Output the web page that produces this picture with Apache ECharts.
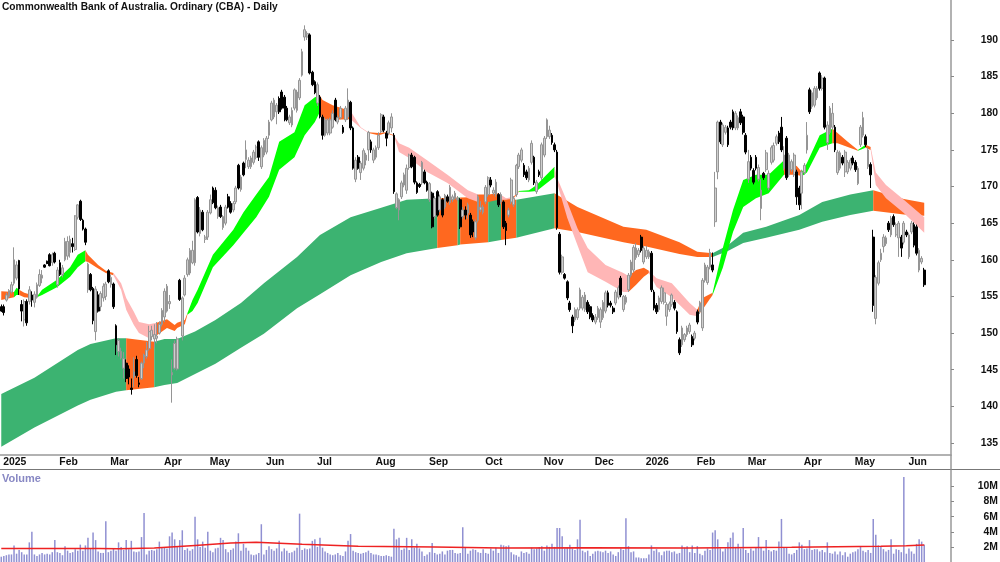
<!DOCTYPE html>
<html lang="en">
<head>
    <meta charset="UTF-8">
    <title>CBA - Daily</title>
    <style>
        html, body { margin: 0; padding: 0; background: #fff; }
    </style>
</head>
<body>
<div id="main" style="width: 1000px;height:562px;"></div>
<script src="https://cdn.jsdelivr.net/npm/echarts@6/dist/echarts.min.js"></script>
<script type="text/javascript">
    var titleText = "Commonwealth Bank of Australia. Ordinary (CBA) - Daily";

    // month labels, position given as bar number
    var tickBars = [0,22,42,63,81,103,123,146,167,189,212,232,252,272,292,314,334,355];
    var tickNames = ["2025","Feb","Mar","Apr","May","Jun","Jul","Aug","Sep","Oct","Nov","Dec","2026","Feb","Mar","Apr","May","Jun"];
    var priceTicks = [135,140,145,150,155,160,165,170,175,180,185,190];
    var volumeTicks = [2,4,6,8,10];

    // one row per day: open, close, low, high
    var ohlc = [
        [153.6,153.0,152.9,153.9],[153.6,152.8,152.4,153.9],[154.5,155.2,154.3,155.5],[155.0,155.8,154.8,156.0],[155.6,156.6,155.4,157.0],
        [156.8,160.0,156.5,161.7],[157.5,159.3,157.2,159.8],[159.9,156.0,155.2,160.0],[153.9,153.0,151.6,154.5],[151.8,154.3,150.9,154.6],
        [154.3,151.4,151.0,154.6],[154.3,155.9,153.9,156.4],[155.2,154.5,153.6,155.7],[154.2,155.3,153.5,155.7],[154.9,156.6,154.7,156.9],
        [156.5,158.0,156.3,158.7],[157.5,157.9,156.8,158.6],[159.3,159.0,158.9,159.4],[159.8,159.5,159.4,159.9],[160.7,159.2,159.1,160.9],
        [159.6,160.7,159.2,161.0],[160.9,159.7,159.5,161.1],[156.6,158.6,156.2,159.0],[159.6,158.0,157.8,160.0],[158.0,158.9,157.6,159.3],
        [160.0,162.5,159.8,163.0],[160.5,162.5,160.0,163.2],[161.0,162.8,160.3,163.3],[162.2,161.8,161.0,163.0],[161.4,166.0,161.2,166.1],
        [165.8,167.5,165.5,167.6],[168.0,165.5,165.3,168.2],[165.4,164.2,164.0,165.6],[164.2,162.4,162.0,164.4],[155.9,159.4,155.5,159.6],
        [158.0,155.9,155.7,158.2],[156.1,151.7,151.2,156.3],[150.2,156.0,149.0,156.4],[155.2,153.0,152.8,155.7],[153.6,155.4,153.0,155.7],
        [154.8,156.4,154.3,156.8],[155.0,156.7,154.5,157.0],[158.5,157.0,156.8,158.7],[156.6,157.6,156.2,158.0],[156.7,153.6,153.3,156.9],
        [151.0,148.4,147.0,151.2],[147.5,149.0,146.8,149.3],[146.6,147.5,146.4,148.0],[145.2,146.5,143.8,147.4],[145.9,143.8,143.3,146.4],
        [145.1,144.0,143.0,145.6],[142.5,142.3,141.6,143.8],[144.0,144.7,142.6,146.7],[146.4,144.2,143.9,146.9],[143.2,143.0,142.6,144.0],
        [143.8,145.9,143.6,146.1],[145.9,147.0,145.2,147.2],[146.8,147.7,146.5,148.8],[147.9,150.2,147.6,151.0],[149.5,150.4,149.0,151.0],
        [149.2,149.8,148.0,151.2],[149.3,149.6,148.6,151.5],[150.0,151.2,149.8,151.6],[151.2,153.1,150.9,153.4],[152.2,155.7,151.5,156.1],
        [153.0,156.4,152.8,156.7],[154.0,154.3,153.3,155.2],[144.3,144.6,140.5,146.4],[145.2,148.6,145.0,149.0],[145.1,149.2,144.9,149.5],
        [157.2,154.6,154.4,157.4],[149.6,154.8,149.0,155.0],[155.2,157.5,155.0,157.9],[158.0,160.0,157.7,160.3],[158.2,161.3,157.9,161.6],
        [159.6,161.3,159.4,162.6],[159.6,168.2,159.2,168.4],[168.5,163.8,163.6,168.7],[163.6,166.8,163.2,167.2],[166.5,164.1,163.9,166.8],
        [162.8,163.1,162.3,163.4],[163.1,166.5,162.7,166.8],[166.4,168.2,166.2,168.9],[169.8,167.8,167.6,170.0],[169.5,167.1,166.9,169.9],
        [165.9,167.1,165.6,167.4],[167.2,165.9,165.7,167.5],[164.4,165.9,164.1,166.1],[165.0,167.2,164.7,167.5],[168.6,167.2,167.0,169.0],
        [167.7,166.5,166.3,168.0],[166.8,167.7,166.5,168.0],[167.9,169.8,167.6,170.1],[172.9,169.8,169.6,173.1],[169.6,171.3,169.3,171.6],
        [173.2,171.6,171.4,173.4],[173.7,175.0,172.5,176.3],[172.7,173.6,172.4,174.0],[172.7,173.9,172.4,174.2],[173.3,174.7,173.0,175.0],
        [174.0,175.4,173.7,175.7],[176.1,174.0,173.5,176.3],[172.7,175.3,172.4,175.6],[174.3,176.3,174.0,176.6],[174.7,176.6,174.4,176.9],
        [177.0,178.8,176.5,179.1],[179.1,181.4,178.9,181.7],[179.5,181.8,179.2,182.1],[180.2,181.1,178.5,181.4],[182.0,180.2,179.9,182.3],
        [182.9,180.7,180.5,183.2],[182.2,180.7,178.9,182.5],[180.7,179.1,178.9,181.0],[178.7,179.5,178.4,179.8],[178.4,180.4,178.1,180.8],
        [180.7,183.2,180.4,183.4],[180.4,182.9,180.1,183.2],[182.1,184.5,181.8,184.8],[185.2,188.4,185.0,188.8],[190.4,191.4,189.9,192.0],
        [190.4,190.9,190.0,191.2],[190.7,185.5,185.3,190.9],[185.6,183.9,183.7,185.8],[184.3,182.8,182.6,184.5],[181.4,183.9,181.0,184.2],
        [182.2,179.5,179.3,182.5],[179.5,177.0,176.4,179.8],[177.0,179.1,176.8,179.4],[177.3,179.1,177.0,179.3],[177.3,179.1,177.0,179.4],
        [178.1,180.0,177.9,180.4],[181.8,179.1,178.9,182.1],[178.8,179.4,178.5,179.7],[179.4,180.7,179.2,181.0],[178.1,177.4,177.2,178.4],
        [179.1,180.7,178.8,181.0],[179.5,181.8,179.1,183.4],[181.5,178.0,177.7,181.7],[178.0,172.5,172.3,178.2],[171.0,173.6,170.6,174.0],
        [174.0,172.5,172.3,174.3],[171.9,173.2,170.9,173.5],[172.5,174.9,172.2,175.2],[173.6,174.3,172.9,174.6],[175.0,177.4,173.5,177.6],
        [176.1,175.0,174.6,176.4],[173.6,175.0,173.2,175.3],[174.0,175.3,173.7,175.6],[175.3,177.0,175.0,177.4],[177.5,179.8,177.3,180.0],
        [179.5,177.7,177.4,179.8],[177.3,176.6,175.5,177.6],[177.3,178.7,177.0,179.0],[178.0,179.5,177.4,180.0],[177.0,169.3,169.0,177.3],
        [167.1,169.0,166.9,169.2],[166.8,168.2,165.4,168.4],[168.6,170.5,168.3,170.8],[170.2,171.6,169.9,171.9],[169.5,172.5,169.0,173.0],
        [172.6,174.3,172.3,174.5],[174.3,172.7,172.5,174.6],[174.0,170.6,170.3,174.2],[170.5,169.2,169.0,170.7],[170.3,170.0,169.8,170.5],
        [170.5,173.3,170.2,173.5],[172.0,170.5,170.3,172.3],[170.6,169.5,169.3,170.8],[168.2,170.4,167.9,170.6],[169.1,164.5,164.3,169.3],
        [165.9,168.4,165.6,168.7],[169.3,166.1,165.9,169.5],[166.8,168.6,166.5,168.9],[168.2,166.1,165.8,168.4],[167.2,168.8,166.9,169.0],
        [168.6,168.0,167.8,168.9],[167.8,169.9,167.5,170.2],[168.2,168.6,167.9,168.9],[168.4,169.1,168.2,169.4],[168.2,168.4,168.0,168.7],
        [168.2,164.5,164.2,168.4],[165.9,166.8,165.6,167.2],[166.8,166.1,165.5,167.3],[166.4,167.5,165.6,167.8],[166.1,163.4,163.0,166.4],
        [165.2,163.8,163.1,165.5],[163.0,165.2,162.7,165.5],[165.4,168.6,165.1,168.9],[166.8,167.2,166.5,168.0],[166.5,167.2,166.2,167.5],
        [167.9,169.9,167.6,170.2],[168.9,171.2,168.6,171.4],[170.9,170.2,169.9,171.3],[169.1,169.5,168.8,169.9],[168.9,170.6,168.6,171.0],
        [168.9,167.5,167.2,169.1],[167.9,168.9,167.6,169.2],[167.9,164.5,164.2,168.1],[165.0,164.0,162.0,165.3],[166.1,166.8,165.8,167.1],
        [167.9,170.9,167.6,171.2],[167.5,168.4,167.2,168.7],[168.9,172.9,168.6,173.1],[172.7,174.3,172.4,174.6],[173.6,175.0,173.3,175.3],
        [172.9,171.6,171.3,173.2],[172.0,171.2,170.9,172.3],[170.9,172.5,170.6,172.8],[173.3,175.9,173.0,176.3],[174.0,170.5,170.2,174.2],
        [169.3,170.6,169.0,170.9],[172.0,171.6,171.3,172.3],[171.2,175.7,170.9,176.0],[174.3,176.6,174.0,176.9],[176.8,179.1,176.5,179.3],
        [176.8,177.7,176.5,178.3],[177.0,176.0,175.7,177.3],[175.7,175.0,174.7,176.0],[174.7,164.4,164.1,175.0],[163.5,158.3,158.0,163.8],
        [158.3,160.4,158.0,160.7],[158.0,157.5,157.3,158.2],[157.0,154.8,154.5,157.2],[154.1,153.2,152.9,154.4],[152.2,151.0,150.0,152.5],
        [151.8,153.2,151.5,153.5],[152.1,153.2,151.8,153.5],[153.4,155.9,153.1,156.2],[153.4,154.9,153.1,155.2],[153.2,155.2,152.9,155.6],
        [154.2,152.9,152.6,154.5],[153.6,152.2,151.9,153.9],[152.4,151.8,151.5,152.7],[151.5,152.2,151.2,152.6],[152.1,153.4,151.8,153.7],
        [151.5,153.2,150.7,153.5],[152.1,154.2,151.8,154.5],[153.0,155.5,152.7,155.8],[155.5,153.8,153.5,155.8],[154.1,153.8,153.5,154.4],
        [153.4,152.9,152.6,153.7],[154.1,155.6,153.8,155.9],[154.9,156.2,154.6,156.5],[157.5,155.2,154.9,157.8],[153.2,155.0,152.9,155.2],
        [154.2,154.9,153.9,155.2],[155.9,157.9,155.6,158.2],[157.9,159.7,157.6,160.0],[158.6,161.7,158.3,162.0],[160.3,161.6,160.0,162.3],
        [160.7,161.3,160.4,161.6],[163.1,161.3,161.0,163.4],[159.7,161.6,159.4,161.9],[160.4,161.3,160.1,161.9],[160.4,161.1,160.1,161.4],
        [160.9,155.9,155.6,161.2],[155.6,153.4,153.1,155.9],[153.8,152.9,152.6,154.1],[153.2,154.8,152.9,155.1],[154.3,156.2,154.0,156.5],
        [154.2,155.5,153.9,156.2],[152.3,153.9,151.0,154.2],[153.2,154.0,152.9,154.3],[153.9,155.2,153.6,155.4],[154.2,153.4,153.1,154.5],
        [152.9,150.2,149.9,153.1],[149.1,147.3,147.0,149.4],[148.4,150.7,148.1,151.0],[149.1,149.8,148.8,150.0],[149.8,150.7,149.5,151.0],
        [150.2,151.1,149.9,151.4],[149.5,148.4,148.1,149.8],[149.3,150.0,149.0,150.3],[152.9,151.5,151.2,153.2],[152.9,154.1,152.6,154.4],
        [150.7,157.2,150.3,157.5],[157.2,159.3,156.9,159.6],[156.9,159.0,156.6,159.3],[159.0,161.0,158.7,161.5],[159.3,158.6,158.3,161.0],
        [165.2,169.8,164.5,172.0],[172.0,178.8,171.0,179.0],[178.8,176.1,175.8,179.1],[175.7,178.4,175.4,178.7],[177.4,178.1,177.1,178.4],
        [178.0,175.7,175.4,178.3],[178.8,178.1,177.8,179.1],[180.2,178.0,177.7,180.5],[178.0,180.0,177.7,180.3],[178.0,179.4,177.7,179.7],
        [180.2,178.7,178.4,180.6],[179.5,177.4,177.1,179.8],[177.0,174.7,174.4,177.3],[171.0,173.4,170.5,175.0],[174.0,172.5,172.2,174.3],
        [172.2,170.6,170.3,172.5],[174.0,172.5,172.2,174.3],[171.0,172.6,170.7,173.0],[167.0,169.5,165.4,171.0],[171.8,171.2,170.9,172.0],
        [172.3,174.6,172.0,175.0],[169.8,171.8,169.5,172.2],[173.3,175.3,173.0,175.6],[173.6,175.6,173.3,176.0],[175.9,176.8,175.6,177.1],
        [177.3,176.1,175.8,177.6],[178.1,175.0,174.7,179.5],[172.5,174.3,172.2,175.5],[176.6,171.2,170.9,176.9],[171.6,174.3,171.3,174.6],
        [172.3,173.4,172.0,173.7],[171.6,174.3,171.3,174.6],[172.0,168.6,167.5,172.3],[169.8,167.5,166.8,170.1],[169.1,172.0,166.9,172.3],
        [171.9,172.9,171.6,173.2],[175.0,177.0,174.5,178.8],[183.2,180.2,179.9,183.5],[180.9,182.8,180.6,183.1],[181.1,183.4,180.8,183.7],
        [182.1,183.4,181.8,183.7],[185.5,183.4,183.1,185.7],[183.4,184.8,183.1,185.2],[184.8,178.1,177.8,185.0],[176.0,178.4,175.0,178.9],
        [177.4,180.7,177.1,181.0],[178.1,180.0,177.8,181.4],[178.1,175.0,174.7,178.4],[171.9,174.7,171.6,175.0],[172.5,174.6,172.2,174.9],
        [174.0,173.2,172.9,174.3],[172.0,174.7,171.3,175.0],[172.0,173.3,171.7,173.6],[172.5,173.6,172.2,173.9],[173.9,173.2,172.9,174.2],
        [173.3,172.3,172.0,173.6],[170.4,172.5,170.2,172.8],[175.7,178.1,175.4,178.4],[177.0,179.4,176.7,180.2],[176.8,175.7,175.4,177.1],
        [172.7,175.0,172.4,175.3],[173.0,171.6,169.8,173.3],[163.1,153.8,152.9,164.1],[152.0,157.6,151.2,157.9],[156.8,159.6,156.5,159.9],
        [160.0,160.9,159.7,161.5],[161.8,163.1,161.0,163.5],[162.2,163.0,161.9,163.3],[165.0,164.1,163.8,165.3],[163.4,165.7,163.1,166.0],
        [165.9,164.8,164.5,166.2],[163.4,164.8,163.1,165.1],[163.0,165.0,160.4,165.3],[163.1,161.6,160.4,163.4],[162.4,165.0,162.1,165.3],
        [163.8,163.4,163.1,164.1],[160.4,163.4,160.1,163.7],[163.8,165.0,163.5,165.3],[164.8,162.0,161.7,165.1],[164.5,160.9,160.6,164.8],
        [158.6,161.3,158.3,161.6],[159.7,160.2,159.4,160.5],[158.6,156.6,156.3,158.9]
    ];

    // volume in millions, one per day
    var volume = [
        .7,.8,.9,1,1,2.2,1.1,1.6,1.3,1,
        1,2.6,4,1,.8,1,1.2,1,1.1,1,
        1.3,2.9,1.3,1.2,.9,2.1,1.5,1.2,1.3,1.7,
        1.5,2.3,1.5,2.2,3.2,1.8,3.9,2.9,1.4,1.2,
        1.2,5.4,1.3,1.5,1.8,1.5,2.6,2,1.6,2.9,
        1.7,2.8,1.4,1.3,1.4,3.3,6.5,1,1.5,1.6,
        1.5,1.7,2.7,1.9,1.9,1.8,3.4,3.9,3,2,
        2.9,4.2,1.6,1.8,1.5,1.7,6,3,2,2.7,
        1.9,4,1.5,1.3,1.8,1.9,3.2,2.9,1.7,1.3,
        1.6,1.8,2.7,3.8,1.5,2.4,1.9,1.5,1,.9,
        1,1.2,5,1,1.6,2.1,1.7,1.5,1.8,2.8,
        1.4,1.8,1.5,1.2,1.3,1.5,1.9,6.4,1.6,1.8,
        1.7,1.8,2.8,3,2,3.2,1.9,1.4,1.2,1,
        .9,1,1.2,.9,.8,1.4,2.8,3.7,1.5,1.3,
        1.2,1.1,1.2,1.3,1.5,1.2,1,1,.9,.8,
        .8,.9,.8,.7,4.4,3,3.2,1.6,1.8,3.2,
        1.6,3,1.9,2.4,1.8,1.4,.8,1,1.3,2.5,
        1.2,1,1.1,1.4,1,1.5,1.6,1.6,1.2,1.1,
        1.2,4.6,1.9,1.1,1.5,1.7,1.6,1.3,1.2,1.7,
        1.2,1.1,1.8,1.5,1.9,1.2,2.3,2.2,2.1,2.2,
        1.3,1,.9,.7,1.4,1.2,1.3,1.1,1.9,1.7,
        1.8,2,2.1,1.5,2.2,2,2.4,2,4.5,4.5,
        3.4,1.8,1.9,2.3,1.8,1.6,3,5.6,1.5,1.3,
        1.5,.8,1.1,1.4,1.5,1.4,1.3,1.5,1.2,1.4,
        1,.8,1.3,1.8,1.6,5.8,2.1,1.3,1.4,.6,
        .6,.5,.5,.5,1,2.2,1.5,1.7,1.3,.9,
        1.4,1.5,1.5,1.3,1.4,1.1,1.2,2.2,1.9,2.1,
        1.3,2.2,1.2,2.1,1.1,.9,1.5,1.8,1.6,3.9,
        4.2,3,1.8,1.4,1.8,2.6,3.2,3.9,2,2.4,
        1.8,4.5,1.6,1.2,1.8,1.5,2,3.3,2,1.5,
        2.9,1.6,1.4,1.6,1.5,2.7,5.7,2,1.9,1.1,
        1,1.2,1.6,2.6,2.3,1.7,1.8,2.9,1.6,1.7,
        1.7,1.4,1.6,1.3,2.6,1.2,1.1,1.4,1,1.4,
        .9,1.3,.7,1.1,1.3,1.4,1.7,2.1,1.5,1.3,
        1.6,1.2,5.7,3.6,2.2,2.1,1.7,1.4,1.6,3,
        1.1,1.7,1.6,1.3,11.25,1.1,1.8,1.4,1.1,2.4,
        3,2.7,2.3
    ];

    // volume average, read at these bars
    var volAvgBars = [0,38,46,60,76,90,100,118,140,170,196,230,270,310,345,355,362];
    var volAvg = [1.8,1.8,1.75,1.85,2.2,2.5,2.6,2.35,2.1,2.0,1.85,1.9,1.85,1.95,2.1,2.15,2.25];

    // slow band: edges read at these bars
    var longBars = [0,13,30,35,45,49,60,64,69,76,84,94,103,116,125,137,149,159,171,179,180,191,196,202,217,226,244,253,266,273,279,285,291,300,313,322,333,342,354,362];
    var longUpper = [141.7,143.9,147.7,148.5,149.3,149.3,148.8,149.2,149.2,150.2,151.8,154.1,156.8,160.4,163.4,165.8,167.1,168.2,168.4,168.5,168.5,168.6,168.4,168.2,169.1,167.2,164.5,164.1,162.4,161.1,160.9,162.0,163.7,164.5,166.1,167.9,168.9,169.5,168.3,167.8];
    var longLower = [134.5,137.1,140.1,140.9,142.0,142.2,142.6,142.9,143.2,144.4,145.8,148.0,149.9,153.4,155.3,157.9,159.7,160.9,161.6,162.0,162.1,162.4,162.7,163.0,164.3,163.8,162.4,161.8,160.8,160.4,160.4,161.2,162.3,163.0,164.1,165.2,166.1,166.7,166.2,166.0];
    // colour runs: bar where the run starts, colour name
    var longRuns = [[0,"sea"],[49,"orange"],[60,"sea"],[171,"orange"],[179,"sea"],[180,"orange"],[191,"sea"],[196,"orange"],[202,"sea"],[217,"orange"],[279,"sea"],[342,"orange"]];

    // fast band
    var shortBars = [0,5,6,7,9,12,14,16,22,27,30,33,34,38,41,44,47,49,52,54,58,61,65,68,69,72,73,75,77,83,91,95,100,105,109,115,119,123,125,126,130,137,141,144,148,151,154,156,160,167,175,183,187,191,195,198,201,203,207,210,213,217,218,222,226,230,237,244,246,249,252,254,257,263,270,273,275,279,283,287,291,296,301,307,308,312,314,316,321,326,328,332,336,339,341,343,347,354,362];
    var shortUpper = [155.7,155.6,156.2,155.9,155.5,155.2,155.0,155.9,157.3,159.0,160.7,161.3,160.7,159.3,158.5,158.2,156.8,154.8,152.9,151.5,151.2,151.4,151.9,151.1,151.4,151.8,152.7,154.5,155.9,160.7,164.1,166.5,168.9,171.3,176.1,177.4,181.1,182.2,182.4,181.8,181.1,180.3,178.1,177.4,177.3,177.4,177.0,175.9,175.3,173.6,171.6,169.5,168.9,168.9,169.1,168.4,168.6,169.4,169.5,170.2,171.3,172.7,171.2,167.9,164.3,161.6,159.3,158.2,157.8,158.6,158.9,158.5,157.5,156.8,154.1,153.2,154.8,155.5,161.6,166.8,170.9,171.6,171.6,173.6,173.2,172.8,172.0,173.2,177.0,177.9,177.3,176.1,175.0,175.7,175.4,171.9,170.2,168.2,165.8];
    var shortLower = [154.5,154.9,155.2,155.2,154.9,154.8,154.9,155.2,156.3,157.7,159.0,159.8,159.7,158.8,158.2,157.9,155.9,153.2,151.1,150.0,149.3,149.7,150.7,150.3,150.7,151.2,152.5,153.0,154.1,159.0,162.0,163.7,165.8,168.6,172.3,174.0,177.0,178.8,180.2,179.1,179.1,179.2,178.0,177.3,177.0,177.3,176.9,174.7,173.9,172.0,170.5,168.4,167.9,167.9,168.2,168.2,168.4,169.3,169.3,169.4,170.2,171.3,170.5,165.7,162.0,158.3,157.0,155.6,155.6,156.6,157.7,158.2,156.3,154.9,152.5,152.3,153.2,155.2,158.9,163.8,167.2,168.4,169.1,171.6,171.6,171.6,171.4,171.9,175.3,175.9,175.9,175.4,174.9,175.3,175.0,170.2,168.4,166.4,163.7];
    var shortRuns = [[0,"orange"],[5,"green"],[7,"orange"],[14,"green"],[33,"orange"],[44,"pink"],[61,"orange"],[73,"green"],[125,"orange"],[137,"pink"],[144,"orange"],[154,"pink"],[187,"orange"],[195,"pink"],[201,"orange"],[203,"green"],[217,"pink"],[246,"orange"],[254,"pink"],[273,"orange"],[279,"green"],[307,"orange"],[314,"green"],[326,"orange"],[336,"green"],[339,"orange"],[341,"pink"]];

    var colors = { sea: "#3cb371", orange: "#ff681f", green: "#00ff00", pink: "#ffb6b6" };
    var slots = 373; // bar slots across the plot, the last ones stay empty
    var font = "'Liberation Sans', Arial, sans-serif";
    var textSize = 10.4;

    var categories = [];
    for (var n = 0; n < slots; n++) {
        categories.push(String(n));
    }

    // one row per colour run, first and last knot of the run plus colour
    function ribbonRows(bars, upper, lower, runs) {
        return runs.map(function (r, k) {
            var from = bars.indexOf(r[0]);
            var to = k + 1 < runs.length ? bars.indexOf(runs[k + 1][0]) : bars.length - 1;
            return [bars[from], upper[from], from, to, colors[r[1]]];
        });
    }

    function ribbonSeries(bars, upper, lower, runs, z) {
        var rows = ribbonRows(bars, upper, lower, runs);
        return {
            type: "custom",
            xAxisIndex: 0,
            yAxisIndex: 0,
            z: z,
            silent: true,
            clip: true,
            data: rows,
            renderItem: function (params, api) {
                var row = rows[params.dataIndex];
                var pts = [];
                for (var i = row[2]; i <= row[3]; i++) {
                    pts.push(api.coord([bars[i], upper[i]]));
                }
                for (var j = row[3]; j >= row[2]; j--) {
                    pts.push(api.coord([bars[j], lower[j]]));
                }
                return {
                    type: "polygon",
                    shape: { points: pts },
                    style: { fill: row[4] }
                };
            }
        };
    }

    var volAvgLine = volAvgBars.map(function (b, i) {
        return [b, volAvg[i]];
    });

    var main = document.getElementById("main");
    var myChart = echarts.init(main);

    var option = {
        animation: false,
        backgroundColor: "#fff",
        title: [
            {
                text: titleText, left: 2, top: 2, padding: 0,
                textStyle: { fontFamily: font, fontSize: 10.2, fontWeight: "bold", color: "#111" }
            },
            {
                text: "Volume", left: 2, top: 473, padding: 0,
                textStyle: { fontFamily: font, fontSize: 11, fontWeight: "bold", color: "#8888c4" }
            }
        ],
        grid: [
            { left: 0, top: 0, width: 951, height: 455, outerBoundsMode: "none" },
            { left: 0, top: 470, width: 951, height: 92, outerBoundsMode: "none" }
        ],
        xAxis: [
            {
                type: "category",
                gridIndex: 0,
                data: categories,
                boundaryGap: true,
                axisLine: { lineStyle: { color: "#999", width: 1.5 } },
                axisTick: {
                    alignWithLabel: true,
                    length: 2,
                    lineStyle: { color: "#888" },
                    interval: function (index) {
                        return tickBars.indexOf(index) >= 0;
                    }
                },
                axisLabel: {
                    interval: function (index) {
                        return tickBars.indexOf(index) >= 0;
                    },
                    formatter: function (value, index) {
                        return tickNames[tickBars.indexOf(index)];
                    },
                    align: "left",
                    margin: 2,
                    padding: [0, 0, 0, 2],
                    fontFamily: font,
                    fontSize: textSize,
                    fontWeight: "bold",
                    color: "#111"
                },
                splitLine: { show: false }
            },
            {
                type: "category",
                gridIndex: 1,
                data: categories,
                boundaryGap: true,
                axisLine: { show: false },
                axisTick: { show: false },
                axisLabel: { show: false },
                splitLine: { show: false }
            }
        ],
        yAxis: [
            {
                type: "value",
                gridIndex: 0,
                position: "right",
                min: 133.36,
                max: 195.46,
                scale: true,
                axisLine: { show: true, lineStyle: { color: "#999", width: 1.5 } },
                axisTick: { show: true, length: 3, lineStyle: { color: "#888" }, customValues: priceTicks },
                axisLabel: {
                    customValues: priceTicks,
                    align: "right",
                    margin: 47,
                    fontFamily: font,
                    fontSize: textSize,
                    fontWeight: "bold",
                    color: "#111"
                },
                splitLine: { show: false }
            },
            {
                type: "value",
                gridIndex: 1,
                position: "right",
                min: 0,
                max: 12.18,
                axisLine: { show: true, lineStyle: { color: "#999", width: 1.5 } },
                axisTick: { show: true, length: 3, lineStyle: { color: "#888" }, customValues: volumeTicks },
                axisLabel: {
                    customValues: volumeTicks,
                    align: "right",
                    margin: 47,
                    formatter: function (v) { return v + "M"; },
                    fontFamily: font,
                    fontSize: textSize,
                    fontWeight: "bold",
                    color: "#111"
                },
                splitLine: { show: false }
            }
        ],
        graphic: [
            { type: "line", shape: { x1: 951, y1: 455, x2: 951, y2: 470 }, style: { stroke: "#999", lineWidth: 1.5 }, silent: true },
            { type: "line", shape: { x1: 0, y1: 469.5, x2: 1000, y2: 469.5 }, style: { stroke: "#777", lineWidth: 1 }, silent: true }
        ],
        series: [
            ribbonSeries(longBars, longUpper, longLower, longRuns, 2),
            ribbonSeries(shortBars, shortUpper, shortLower, shortRuns, 3),
            {
                type: "candlestick",
                xAxisIndex: 0,
                yAxisIndex: 0,
                z: 5,
                barWidth: 2.2,
                silent: true,
                data: ohlc,
                itemStyle: {
                    color: "#cfcfcf",
                    color0: "#000000",
                    borderColor: "#959595",
                    borderColor0: "#000000",
                    borderWidth: 1
                }
            },
            {
                type: "bar",
                xAxisIndex: 1,
                yAxisIndex: 1,
                barWidth: 1.5,
                silent: true,
                data: volume,
                itemStyle: { color: "#9090d2" }
            },
            {
                type: "line",
                xAxisIndex: 1,
                yAxisIndex: 1,
                z: 4,
                silent: true,
                symbol: "none",
                data: volAvgLine,
                lineStyle: { color: "#ee2222", width: 1.5 }
            }
        ]
    };

    myChart.setOption(option);
</script>
</body>
</html>
